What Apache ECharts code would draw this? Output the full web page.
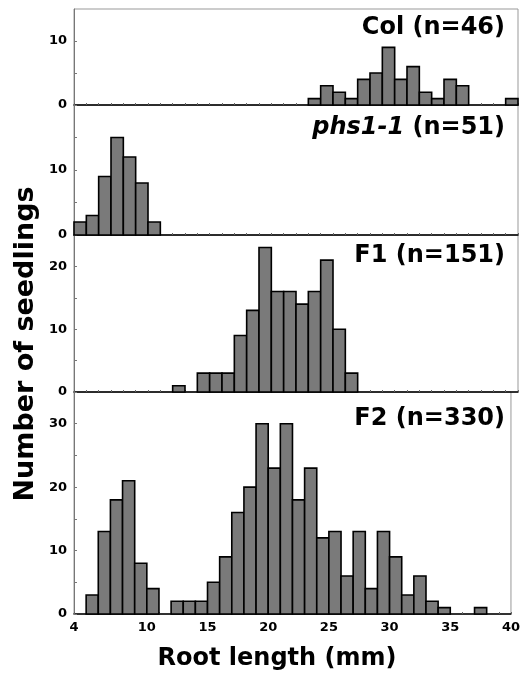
<!DOCTYPE html>
<html>
<head>
<meta charset="utf-8">
<script src="https://cdn.jsdelivr.net/npm/echarts@6/dist/echarts.min.js"></script>
<style>
html, body { margin: 0; padding: 0; background: #fff; }
#main { width: 523px; height: 675px; }
</style>
</head>
<body>
<div id="main"></div>
<script>
// 1 mm bins, left edges 4 .. 39
var binStarts = [4, 5, 6, 7, 8, 9, 10, 11, 12, 13, 14, 15, 16, 17, 18, 19, 20, 21,
                 22, 23, 24, 25, 26, 27, 28, 29, 30, 31, 32, 33, 34, 35, 36, 37, 38, 39];
var colCounts  = [0, 0, 0, 0, 0, 0, 0, 0, 0, 0, 0, 0, 0, 0, 0, 0, 0, 0,
                  0, 1, 3, 2, 1, 4, 5, 9, 4, 6, 2, 1, 4, 3, 0, 0, 0, 1];
var phsCounts  = [2, 3, 9, 15, 12, 8, 2, 0, 0, 0, 0, 0, 0, 0, 0, 0, 0, 0,
                  0, 0, 0, 0, 0, 0, 0, 0, 0, 0, 0, 0, 0, 0, 0, 0, 0, 0];
var f1Counts   = [0, 0, 0, 0, 0, 0, 0, 0, 1, 0, 3, 3, 3, 9, 13, 23, 16, 16,
                  14, 16, 21, 10, 3, 0, 0, 0, 0, 0, 0, 0, 0, 0, 0, 0, 0, 0];
var f2Counts   = [0, 3, 13, 18, 21, 8, 4, 0, 2, 2, 2, 5, 9, 16, 20, 30, 23, 30,
                  18, 23, 12, 13, 6, 13, 4, 13, 9, 3, 6, 2, 1, 0, 0, 1, 0, 0];
var yMaxes = [15, 20, 25, 35];
var panelTitles = ['Col (n=46)', '{i|phs1-1} (n=51)', 'F1 (n=151)', 'F2 (n=330)'];
var xTickLabels = [4, 10, 15, 20, 25, 30, 35, 40];

var FONT = 'DejaVu Sans';
var chart = echarts.init(document.getElementById('main'));

var panels = [colCounts, phsCounts, f1Counts, f2Counts];
// grid top / height for each panel, stacked with no gap
var gridBoxes = [[9, 96], [105, 130], [235, 157], [392, 222]];
var titleY = [31, 131, 259, 422];

function renderBar(params, api) {
    var x = api.value(0);
    var n = api.value(1);
    if (!n) return null;
    var p0 = api.coord([x, 0]);
    var p1 = api.coord([x + 1, n]);
    return {
        type: 'rect',
        shape: { x: p0[0], y: p1[1], width: p1[0] - p0[0], height: p0[1] - p1[1] },
        style: { fill: '#7a7a7a', stroke: '#000', lineWidth: 1.6 }
    };
}

var grids = [], xAxes = [], yAxes = [], series = [], graphics = [];
panels.forEach(function (counts, i) {
    var last = i === panels.length - 1;
    grids.push({
        left: 74, right: 5, top: gridBoxes[i][0], height: gridBoxes[i][1],
        show: true, borderColor: '#999', borderWidth: 1
    });
    xAxes.push({
        type: 'value', gridIndex: i, min: 4, max: 40, interval: 1,
        axisLine: { lineStyle: { color: '#000', width: 1.5 } },
        axisTick: { inside: true, length: 2, lineStyle: { color: '#666' } },
        splitLine: { show: false },
        axisLabel: {
            show: last, margin: 7, color: '#000', fontFamily: FONT, fontWeight: 'bold', fontSize: 13,
            formatter: function (v) { return xTickLabels.indexOf(v) >= 0 ? String(v) : ''; }
        }
    });
    yAxes.push({
        type: 'value', gridIndex: i, min: 0, max: yMaxes[i], interval: 5,
        axisLine: { show: true, lineStyle: { color: '#777', width: 1 } },
        axisTick: { show: true, inside: true, length: 3, lineStyle: { color: '#777' } },
        splitLine: { show: false },
        axisLabel: {
            margin: 7, color: '#000', fontFamily: FONT, fontWeight: 'bold', fontSize: 13,
            showMaxLabel: false,
            formatter: function (v) { return v % 10 === 0 ? String(v) : ''; }
        }
    });
    series.push({
        type: 'custom', xAxisIndex: i, yAxisIndex: i,
        renderItem: renderBar,
        encode: { x: 0, y: 1 },
        data: binStarts.map(function (b, k) { return [b, counts[k]]; })
    });
    graphics.push({
        type: 'text', right: 18, top: titleY[i] - 15, z: 10,
        style: {
            text: panelTitles[i], fill: '#000',
            font: 'bold 24px "' + FONT + '"',
            rich: { i: { fontStyle: 'italic', fontWeight: 'bold', fontSize: 24, fontFamily: FONT } }
        }
    });
});

graphics.push({
    type: 'text', x: 26, y: 344, rotation: Math.PI / 2,
    style: {
        text: 'Number of seedlings', fill: '#000', font: 'bold 27px "' + FONT + '"',
        textAlign: 'center', textVerticalAlign: 'middle'
    }
});
graphics.push({
    type: 'text', x: 277, y: 659,
    style: {
        text: 'Root length (mm)', fill: '#000', font: 'bold 24px "' + FONT + '"',
        textAlign: 'center', textVerticalAlign: 'middle'
    }
});

chart.setOption({
    animation: false,
    grid: grids,
    xAxis: xAxes,
    yAxis: yAxes,
    series: series,
    graphic: graphics
});
</script>
</body>
</html>
